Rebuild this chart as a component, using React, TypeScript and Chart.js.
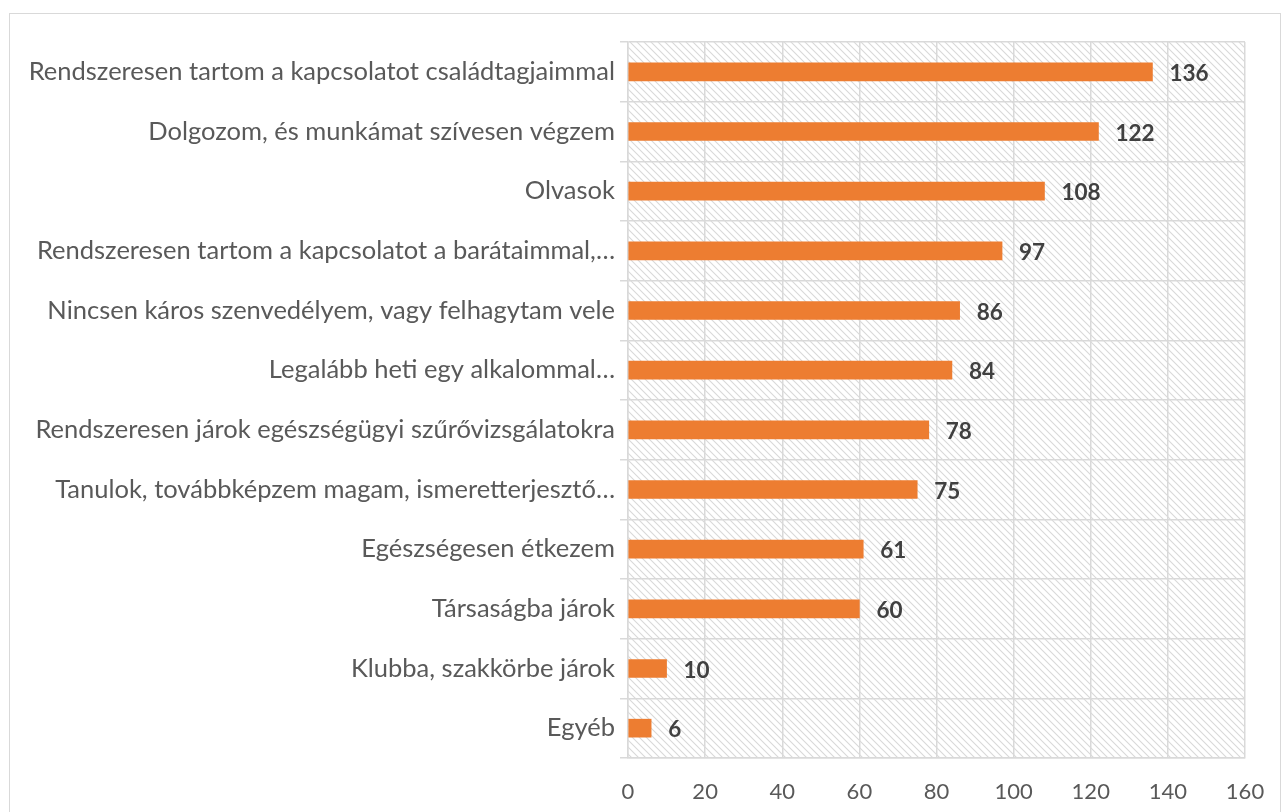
import React, { useEffect, useRef } from "react";
import { Chart, registerables } from "chart.js";

Chart.register(...registerables);

const categories: string[] = [
  "Rendszeresen tartom a kapcsolatot családtagjaimmal",
  "Dolgozom, és munkámat szívesen végzem",
  "Olvasok",
  "Rendszeresen tartom a kapcsolatot a barátaimmal,…",
  "Nincsen káros szenvedélyem, vagy felhagytam vele",
  "Legalább heti egy alkalommal…",
  "Rendszeresen járok egészségügyi szűrővizsgálatokra",
  "Tanulok, továbbképzem magam, ismeretterjesztő…",
  "Egészségesen étkezem",
  "Társaságba járok",
  "Klubba, szakkörbe járok",
  "Egyéb",
];

const values: number[] = [136, 122, 108, 97, 86, 84, 78, 75, 61, 60, 10, 6];

const xMin = 0;
const xMax = 160;
const xStep = 20;

const FONT = "Lato, 'Open Sans', sans-serif";

function makeHatch(): CanvasPattern | string {
  const c = document.createElement("canvas");
  const s = 7;
  c.width = s;
  c.height = s;
  const g = c.getContext("2d");
  if (!g) return "#ffffff";
  g.fillStyle = "#ffffff";
  g.fillRect(0, 0, s, s);
  g.strokeStyle = "#d9d9d9";
  g.lineWidth = 1.1;
  g.beginPath();
  g.moveTo(-2, -2);
  g.lineTo(s + 2, s + 2);
  g.moveTo(-2 - s, -2);
  g.lineTo(2, s + 2);
  g.moveTo(s - 2, -2);
  g.lineTo(2 * s + 2, s + 2);
  g.stroke();
  const p = g.createPattern(c, "repeat");
  return p || "#ffffff";
}

export default function App() {
  const ref = useRef<HTMLCanvasElement | null>(null);

  useEffect(() => {
    if (!ref.current) return;
    const hatch = makeHatch();

    const bgPlugin = {
      id: "bgHatch",
      beforeDraw(chart: any) {
        const { ctx, chartArea } = chart;
        ctx.save();
        ctx.fillStyle = "#ffffff";
        ctx.fillRect(0, 0, chart.width, chart.height);
        ctx.strokeStyle = "#d9d9d9";
        ctx.lineWidth = 1;
        ctx.strokeRect(9.5, 13.5, 1271, 900);
        ctx.fillStyle = hatch as any;
        ctx.fillRect(
          chartArea.left,
          chartArea.top,
          chartArea.right - chartArea.left,
          chartArea.bottom - chartArea.top
        );
        ctx.restore();
      },
    };

    const labelPlugin = {
      id: "valueLabels",
      afterDatasetsDraw(chart: any) {
        const { ctx } = chart;
        const meta = chart.getDatasetMeta(0);
        ctx.save();
        ctx.fillStyle = "#404040";
        ctx.font = `bold 22.5px ${FONT}`;
        ctx.textAlign = "left";
        ctx.textBaseline = "middle";
        meta.data.forEach((bar: any, i: number) => {
          ctx.fillText(String(values[i]), bar.x + 17, bar.y + 2);
        });
        ctx.restore();
      },
    };

    const chart = new Chart(ref.current, {
      type: "bar",
      data: {
        labels: categories,
        datasets: [
          {
            data: values,
            backgroundColor: "#ED7D31",
            borderWidth: 0,
            barThickness: 18,
          },
        ],
      },
      options: {
        indexAxis: "y",
        animation: false,
        responsive: false,
        maintainAspectRatio: false,
        layout: { padding: { left: 10, top: 42, right: 36, bottom: 0 } },
        plugins: {
          legend: { display: false },
          tooltip: { enabled: false },
        },
        scales: {
          x: {
            min: xMin,
            max: xMax,
            ticks: {
              stepSize: xStep,
              color: "#595959",
              font: { family: FONT, size: 22 },
              padding: 21,
            },
            grid: { color: "#d9d9d9", lineWidth: 1.5, drawTicks: false },
            border: { display: true, color: "#d9d9d9", width: 1.5 },
            afterFit(scale: any) {
              scale.height = 54;
              scale.paddingLeft = 0;
              scale.paddingRight = 0;
            },
          },
          y: {
            ticks: {
              color: "#595959",
              font: { family: FONT, size: 25.5 },
              padding: 5,
              autoSkip: false,
            },
            grid: {
              color: "#d9d9d9",
              lineWidth: 1.5,
              offset: true,
              drawTicks: true,
              tickLength: 8,
            },
            border: { display: true, color: "#d9d9d9", width: 1.5 },
            afterFit(scale: any) {
              scale.width = 618;
            },
          },
        },
      },
      plugins: [bgPlugin, labelPlugin],
    });

    return () => chart.destroy();
  }, []);

  return (
    <div style={{ position: "fixed", left: 0, top: 0, width: 1281, height: 812, overflow: "hidden", background: "#fff" }}>
      <canvas ref={ref} width={1281} height={812} style={{ display: "block", width: 1281, height: 812 }} />
    </div>
  );
}
